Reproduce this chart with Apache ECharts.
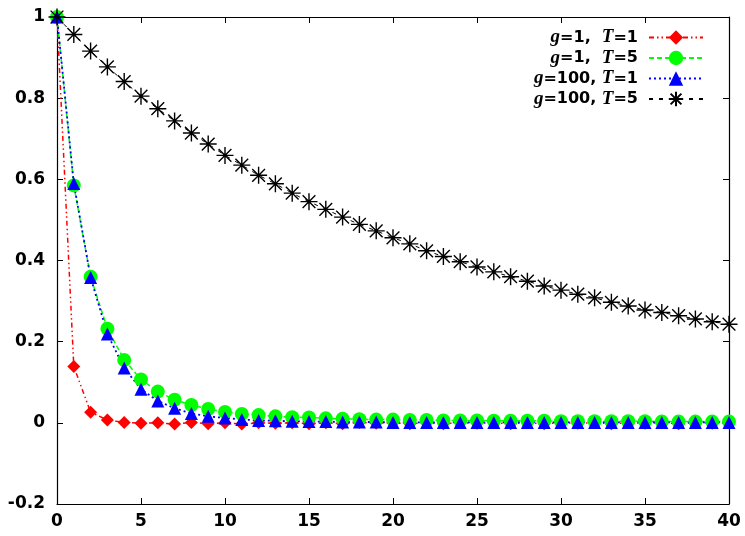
<!DOCTYPE html>
<html lang="en">
<head>
    <meta charset="UTF-8">
    <title>g / T relaxation</title>
    <script src="https://cdn.jsdelivr.net/npm/echarts/dist/echarts.min.js"></script>
    <style>
        body { margin: 0; padding: 0; background: #fff; }
        #chart { width: 745px; height: 536px; }
    </style>
</head>
<body>
<div id="chart"></div>
<script>
    // 数据
    const steps = [0, 1, 2, 3, 4, 5, 6, 7, 8, 9, 10, 11, 12, 13, 14, 15, 16, 17, 18, 19, 20,
        21, 22, 23, 24, 25, 26, 27, 28, 29, 30, 31, 32, 33, 34, 35, 36, 37, 38, 39, 40];
    const g1T1 = [1, 0.139, 0.026, 0.007, 0.001, -0.001, 0.000, -0.003, 0.001, -0.002, 0.000,
        -0.003, 0.000, -0.001, 0.000, -0.002, 0.000, -0.002, 0.001, -0.001, 0.000,
        -0.002, 0.000, -0.002, 0.000, -0.001, 0.000, -0.002, 0.000, -0.002, 0.000,
        -0.001, 0.000, -0.002, 0.000, -0.001, 0.000, -0.002, 0.000, -0.001, 0.000];
    const g1T5 = [1, 0.585, 0.360, 0.232, 0.155, 0.107, 0.077, 0.057, 0.044, 0.034, 0.027,
        0.022, 0.019, 0.016, 0.014, 0.013, 0.011, 0.010, 0.009, 0.008, 0.008,
        0.007, 0.007, 0.006, 0.006, 0.006, 0.005, 0.005, 0.005, 0.005, 0.004,
        0.004, 0.004, 0.004, 0.004, 0.004, 0.003, 0.003, 0.003, 0.003, 0.003];
    const g100T1 = [1, 0.590, 0.358, 0.219, 0.135, 0.083, 0.054, 0.036, 0.023, 0.016, 0.012,
        0.008, 0.006, 0.005, 0.004, 0.003, 0.003, 0.002, 0.002, 0.002, 0.001,
        0.001, 0.001, 0.001, 0.001, 0.001, 0.001, 0.001, 0.001, 0.001, 0.001,
        0.001, 0.001, 0.001, 0.001, 0.001, 0.001, 0.001, 0.001, 0.001, 0.001];
    const g100T5 = [1, 0.957, 0.916, 0.877, 0.841, 0.805, 0.774, 0.744, 0.714, 0.687, 0.659,
        0.635, 0.610, 0.589, 0.566, 0.545, 0.526, 0.507, 0.489, 0.473, 0.456,
        0.441, 0.424, 0.410, 0.397, 0.384, 0.372, 0.360, 0.349, 0.337, 0.327,
        0.317, 0.308, 0.297, 0.288, 0.278, 0.272, 0.264, 0.256, 0.249, 0.243];
    const seriesNames = ["g=1,  T=1", "g=1,  T=5", "g=100, T=1", "g=100, T=5"];

    const chart = echarts.init(document.getElementById("chart"));
    const pairs = (ys) => steps.map((x, i) => [x, ys[i]]);
    const labelFont = { color: "#000", fontFamily: "DejaVu Sans", fontWeight: "bold", fontSize: 17 };
    const tick = { show: true, inside: true, length: 6, lineStyle: { color: "#000", width: 1 } };
    const line = { show: true, onZero: false, lineStyle: { color: "#000", width: 1.2 } };
    // 星号：竖、横、两条斜线
    const asterisk = "path://M0,-10L0,10M-10,0L10,0M-7.5,-7.5L7.5,7.5M-7.5,7.5L7.5,-7.5";

    chart.setOption({
        animation: false,
        grid: { left: 57, right: 16, top: 17, bottom: 32 },
        legend: {
            orient: "vertical",
            right: 36,
            top: 23,
            align: "right",
            itemWidth: 54,
            itemHeight: 18,
            itemGap: 1.5,
            data: seriesNames,
            formatter: (name) => name.replace(/([gT])/g, "{i|$1}"),
            textStyle: {
                color: "#000",
                fontFamily: "DejaVu Sans",
                fontWeight: "bold",
                fontSize: 16,
                padding: [0, 6, 0, 0],
                rich: {
                    i: { fontFamily: "Liberation Serif", fontStyle: "italic", fontWeight: "bold", fontSize: 19 }
                }
            }
        },
        xAxis: [
            {
                type: "value", min: 0, max: 40, interval: 5,
                axisLine: line, axisTick: tick, splitLine: { show: false },
                axisLabel: Object.assign({ margin: 9 }, labelFont)
            },
            {
                type: "value", position: "top", min: 0, max: 40, interval: 5,
                axisLine: line, axisTick: tick, splitLine: { show: false },
                axisLabel: { show: false }
            }
        ],
        yAxis: [
            {
                type: "value", min: -0.2, max: 1, interval: 0.2,
                axisLine: line, axisTick: tick, splitLine: { show: false },
                axisLabel: Object.assign({ margin: 12 }, labelFont)
            },
            {
                type: "value", position: "right", min: -0.2, max: 1, interval: 0.2,
                axisLine: line, axisTick: tick, splitLine: { show: false },
                axisLabel: { show: false }
            }
        ],
        series: [
            {
                name: seriesNames[0], type: "line", data: pairs(g1T1),
                symbol: "diamond", symbolSize: 13, showAllSymbol: true,
                lineStyle: { color: "#ff0000", width: 1.5, type: [5, 3, 1.5, 3, 1.5, 3] },
                itemStyle: { color: "#ff0000" }
            },
            {
                name: seriesNames[1], type: "line", data: pairs(g1T5),
                symbol: "circle", symbolSize: 14, showAllSymbol: true,
                lineStyle: { color: "#00ff00", width: 1.5, type: [5, 3] },
                itemStyle: { color: "#00ff00" }
            },
            {
                name: seriesNames[2], type: "line", data: pairs(g100T1),
                symbol: "triangle", symbolSize: 13, showAllSymbol: true,
                lineStyle: { color: "#0000ff", width: 1.8, type: [2, 3] },
                itemStyle: { color: "#0000ff" }
            },
            {
                name: seriesNames[3], type: "line", data: pairs(g100T5),
                symbol: asterisk, symbolSize: 17, showAllSymbol: true,
                lineStyle: { color: "#000", width: 1, type: [4, 6] },
                itemStyle: { color: "#000", borderColor: "#000", borderWidth: 1.4 }
            }
        ]
    });
</script>
</body>
</html>
